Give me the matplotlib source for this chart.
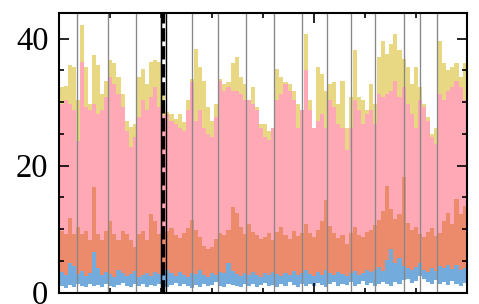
import matplotlib
matplotlib.use("Agg")
import matplotlib.pyplot as plt
import numpy as np
from matplotlib.ticker import MultipleLocator

# band levels, 100 steps across x = 0..8
base = [1.0, 0.7, 1.2, 0.9, 1.3, 1.1, 0.8, 1.4, 1.0, 1.2,
        0.9, 1.3, 1.1, 0.8, 1.2, 1.5, 1.0, 0.9, 1.3, 1.1,
        1.4, 0.9, 1.2, 1.0, 1.3, 1.1, 0.8, 1.2, 1.5, 1.0,
        1.3, 1.1, 0.7, 1.2, 0.9, 1.4, 1.0, 1.2, 1.6, 1.1,
        0.9, 1.3, 1.2, 1.0, 0.8, 1.4, 1.1, 1.3, 0.9, 1.2,
        1.5, 1.0, 1.2, 0.8, 1.3, 1.1, 1.6, 1.2, 0.9, 1.4,
        1.1, 1.3, 1.0, 1.5, 1.2, 0.9, 1.3, 1.7, 1.1, 1.4,
        1.2, 1.6, 1.0, 1.3, 1.8, 1.2, 1.5, 1.1, 1.4, 1.7,
        1.3, 1.0, 1.6, 1.4, 1.9, 2.2, 1.5, 1.8, 2.6, 2.1,
        1.7, 1.4, 1.9, 1.3, 1.6, 1.2, 1.8, 1.4, 1.1, 1.5]

blue_top = [3.2, 2.8, 4.6, 4.2, 2.9, 3.4, 2.6, 3.1, 6.4, 3.8,
            2.7, 3.3, 2.9, 2.5, 3.6, 3.0, 2.6, 2.9, 3.4, 2.4,
            2.8, 3.1, 2.6, 3.3, 2.9, 2.7, 3.5, 3.0, 2.6, 3.2,
            2.8, 2.5, 3.1, 2.9, 3.6, 2.7, 2.4, 3.0, 2.8, 3.3,
            3.0, 4.6, 3.4, 2.9, 2.6, 3.1, 2.7, 3.2, 2.8, 2.5,
            3.0, 2.7, 3.3, 2.9, 2.6, 3.1, 2.8, 3.4, 2.7, 3.0,
            3.6, 2.9, 2.6, 3.2, 2.8, 3.5, 3.0, 2.7, 3.3, 2.9,
            2.6, 3.1, 3.4, 2.8, 3.0, 3.6, 3.2, 3.5, 4.0, 3.4,
            5.2, 6.8, 4.6, 5.4, 4.1, 3.8, 3.5, 4.0, 4.7, 3.6,
            3.3, 3.9, 3.4, 4.2, 3.8, 4.4, 3.7, 4.3, 3.5, 3.9]

orange_top = [9.7, 9.2, 11.8, 9.2, 10.3, 9.2, 9.7, 8.2, 16.6, 9.2,
              8.2, 9.7, 11.3, 9.2, 8.2, 9.7, 9.2, 8.2, 7.1, 9.2,
              9.7, 8.2, 12.4, 11.3, 9.2, 10.5, 9.7, 10.2, 9.0, 8.6,
              9.3, 10.1, 11.4, 9.8, 8.7, 7.4, 6.8, 7.2, 8.5, 9.4,
              9.0, 9.8, 13.4, 12.6, 10.4, 9.2, 10.8, 9.5, 9.0, 8.4,
              8.8, 9.4, 8.2, 9.6, 10.3, 9.1, 8.5, 9.7, 8.9, 9.3,
              10.8, 9.4, 8.8, 9.9, 11.2, 14.6, 10.5, 9.4, 8.6, 9.1,
              7.6, 9.3, 10.4, 9.0, 8.7, 9.5, 9.8, 10.6, 11.4, 12.8,
              16.8, 13.2, 11.6, 12.4, 18.2, 11.0, 9.8, 10.4, 9.2, 8.8,
              9.6, 10.2, 8.9, 9.4, 11.2, 12.6, 10.8, 14.8, 12.4, 13.6]

pink_top = [29.7, 30.3, 29.7, 28.7, 23.9, 36.3, 29.2, 28.7, 29.7, 28.2,
            28.7, 30.8, 33.9, 32.9, 31.3, 29.2, 25.5, 22.9, 24.5, 27.6,
            30.3, 28.7, 30.8, 32.4, 29.2, 28.0, 28.2, 27.1, 26.6, 26.0,
            25.5, 28.7, 33.2, 27.1, 28.7, 26.0, 25.0, 24.5, 27.6, 33.4,
            31.8, 32.4, 31.8, 31.8, 31.3, 30.3, 30.3, 29.7, 28.7, 26.0,
            24.5, 24.0, 26.0, 30.3, 31.3, 32.8, 31.8, 30.3, 26.0, 28.7,
            35.0, 28.7, 26.0, 27.1, 28.2, 26.0, 30.3, 29.2, 26.6, 26.0,
            22.4, 26.0, 30.3, 28.7, 26.6, 28.2, 28.7, 26.6, 31.3, 30.8,
            31.3, 31.8, 33.4, 30.8, 32.4, 29.7, 28.2, 26.0, 30.3, 29.2,
            27.1, 24.5, 23.4, 31.3, 30.3, 31.8, 32.4, 33.4, 32.4, 30.3]

yellow_top = [32.4, 32.6, 35.8, 35.5, 30.3, 42.1, 35.5, 29.7, 37.4, 35.8,
              31.3, 33.4, 36.6, 36.1, 33.9, 31.3, 27.1, 26.1, 26.6, 33.9,
              35.3, 32.9, 36.3, 36.6, 36.3, 33.0, 28.4, 28.2, 27.4, 28.2,
              26.8, 30.3, 33.7, 38.4, 35.5, 33.4, 29.2, 27.1, 29.7, 33.7,
              32.9, 33.1, 36.1, 37.1, 33.9, 32.9, 30.3, 32.4, 29.2, 26.6,
              26.6, 25.5, 26.0, 35.3, 33.9, 33.2, 32.9, 31.8, 29.7, 27.1,
              40.8, 30.3, 26.0, 35.5, 34.5, 31.8, 32.9, 33.2, 29.7, 33.4,
              26.0, 30.8, 38.2, 30.8, 30.3, 28.7, 32.9, 29.7, 37.1, 39.7,
              37.6, 39.2, 40.8, 38.2, 36.8, 35.5, 32.9, 35.5, 32.4, 29.7,
              27.6, 25.0, 26.0, 39.7, 36.1, 35.0, 35.5, 36.1, 33.9, 36.1]

# segment boundaries (grey) and the marked split (dashed)
breaks = [0.34, 0.96, 1.51, 2.00, 2.61, 3.12, 3.67, 4.22, 4.76,
          5.25, 5.73, 6.20, 6.77, 7.09, 7.41]
split = 2.04

yellow = "#e8d884"
pink = "#ffa8b6"
orange = "#ec8b6c"
blue = "#72abdc"

plt.rcParams['font.family'] = ['Liberation Serif', 'DejaVu Serif']

fig = plt.figure(figsize=(4.79, 3.04), dpi=100)
ax = fig.add_axes([0.1242, 0.0378, 0.8501, 0.9184])

n = len(base)
x = np.linspace(0, 8, n + 1)


def ext(v):
    return np.append(v, v[-1])


# painted back to front, each band from zero
ax.fill_between(x, 0, ext(yellow_top), step='post', color=yellow, lw=0)
ax.fill_between(x, 0, ext(pink_top), step='post', color=pink, lw=0)
ax.fill_between(x, 0, ext(orange_top), step='post', color=orange, lw=0)
ax.fill_between(x, 0, ext(blue_top), step='post', color=blue, lw=0)
ax.fill_between(x, 0, ext(base), step='post', color='white', lw=0)

for b in breaks:
    ax.axvline(b, color='#888888', lw=0.95)

# dashed split line with solid black edges
ax.axvline(split, color='k', lw=2.4, ls=(0, (4.0, 1.4)))
ax.axvline(split - 0.055, color='k', lw=1.0)
ax.axvline(split + 0.055, color='k', lw=1.0)

ax.set_xlim(0, 8)
ax.set_ylim(0, 44)
ax.xaxis.set_major_locator(MultipleLocator(5))
ax.xaxis.set_minor_locator(MultipleLocator(1))
ax.yaxis.set_major_locator(MultipleLocator(20))
ax.yaxis.set_minor_locator(MultipleLocator(5))

ax.tick_params(which='both', direction='in', top=True, right=True,
               labelbottom=False, width=1.2)
ax.tick_params(which='major', length=7.5, labelsize=23.5, pad=8)
ax.tick_params(which='minor', length=3.6)
for s in ax.spines.values():
    s.set_linewidth(1.5)

fig.savefig("out.png", dpi=100)
